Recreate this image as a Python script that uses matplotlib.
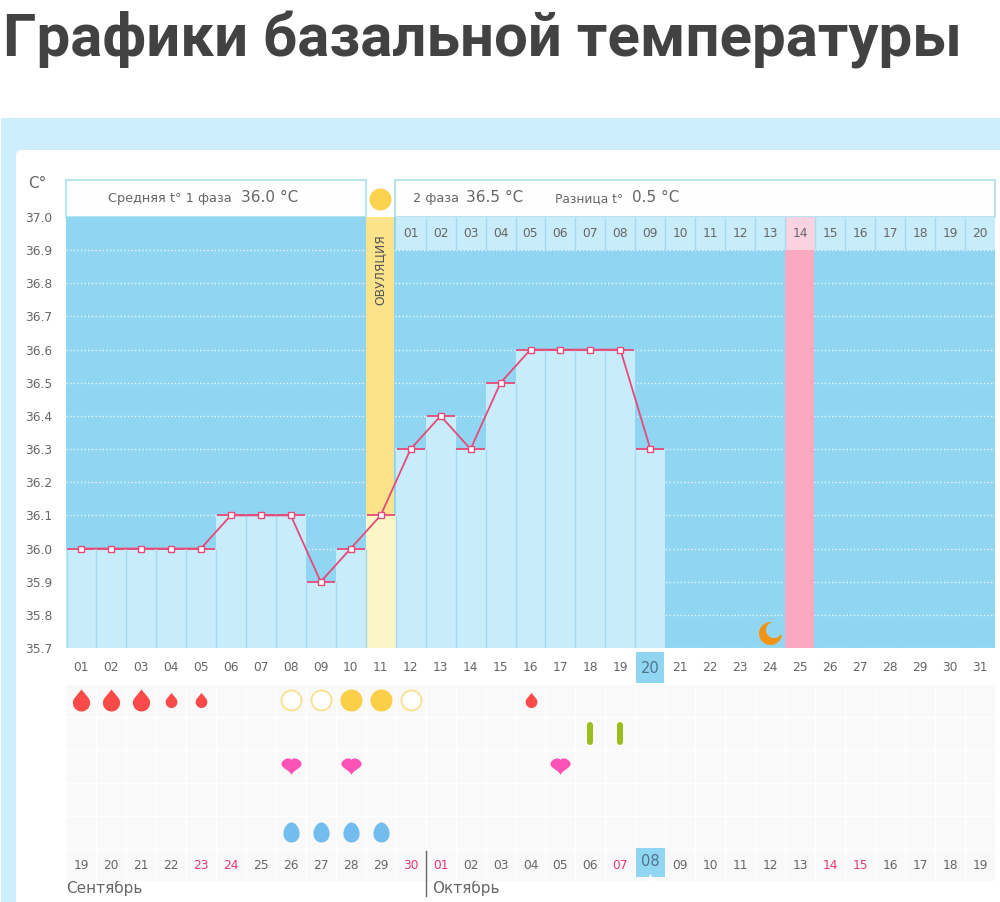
# plot.py - basal temperature chart for one cycle

import numpy as np
import matplotlib.pyplot as plt
from matplotlib.markers import MarkerStyle
from matplotlib.patches import FancyBboxPatch, Rectangle
from matplotlib.path import Path

plt.rcParams["font.family"] = ["DejaVu Sans"]

days = np.arange(1, 32)
temps = [36.0, 36.0, 36.0, 36.0, 36.0, 36.1, 36.1, 36.1, 35.9, 36.0,
         36.1, 36.3, 36.4, 36.3, 36.5, 36.6, 36.6, 36.6, 36.6, 36.3]
temp_ticks = [37.0, 36.9, 36.8, 36.7, 36.6, 36.5, 36.4, 36.3, 36.2, 36.1, 36.0, 35.9, 35.8, 35.7]

ovulation_day = 11
today = 20
pink_day = 25
moon_day = 24
moon_temp = 35.745

second_phase_days = days[11:]
second_phase_labels = [f"{i:02d}" for i in range(1, 21)]

calendar_labels = ["19", "20", "21", "22", "23", "24", "25", "26", "27", "28", "29", "30",
                   "01", "02", "03", "04", "05", "06", "07", "08", "09", "10", "11", "12",
                   "13", "14", "15", "16", "17", "18", "19"]
red_dates = [5, 6, 12, 13, 19, 26, 27]  # cycle days that fall on red calendar dates

big_drops = [1, 2, 3]
small_drops = [4, 5, 16]
open_rings = [8, 9, 12]
full_suns = [10, 11]
green_sticks = [18, 19]
hearts = [8, 10, 17]
eggs = [8, 9, 10, 11]

BG_BLUE = "#cdeefc"
CHART_BLUE = "#90d6f3"
BAR_BLUE = "#c9ecfb"
SEP_BLUE = "#a4dbf1"
HEAD_BORDER = "#a8dfee"
PINK_LINE = "#e64a78"
TEXT = "#666666"
RED_TEXT = "#e5386f"
TODAY_TEXT = "#4f7488"


# marker outlines, centred on the origin
def make_drop():
    t = np.linspace(0.2 * np.pi, -1.2 * np.pi, 40)
    x = 0.39 * np.cos(t)
    y = 0.39 * np.sin(t) - 0.11
    return Path(np.column_stack([np.r_[0, x], np.r_[0.5, y]]), closed=True)


def make_heart():
    t = np.linspace(0, 2 * np.pi, 80)
    x = 16 * np.sin(t) ** 3
    y = 13 * np.cos(t) - 3 * np.cos(2 * t) - np.cos(3 * t) - np.cos(4 * t)
    return Path(np.column_stack([x / 32, (y + 2.0) / 32]), closed=True)


def make_egg():
    t = np.linspace(0, 2 * np.pi, 60)
    x = 0.4 * np.cos(t) * (1 - 0.13 * np.sin(t))
    y = 0.5 * np.sin(t)
    return Path(np.column_stack([x, y]), closed=True)


def make_moon():
    # crescent: outer circle minus a circle shifted to the upper right
    a1, a2 = np.radians(80), np.radians(350)
    outer = 0.5 * np.column_stack([np.cos(np.linspace(a1, a2, 50)), np.sin(np.linspace(a1, a2, 50))])
    c = 0.15
    r = np.hypot(outer[0, 0] - c, outer[0, 1] - c)
    start = np.arctan2(outer[-1, 1] - c, outer[-1, 0] - c)
    end = np.arctan2(outer[0, 1] - c, outer[0, 0] - c) - 2 * np.pi
    t = np.linspace(start, end, 40)
    inner = np.column_stack([c + r * np.cos(t), c + r * np.sin(t)])
    return Path(np.vstack([outer, inner]), closed=True)


fig = plt.figure(figsize=(10, 9.02), dpi=100, facecolor="white")

# background axes works in pixels
bg = fig.add_axes([0, 0, 1, 1])
bg.set_xlim(0, 1000)
bg.set_ylim(902, 0)
bg.axis("off")

bg.text(3, 40, "Графики базальной температуры", fontsize=43.2, fontweight="bold",
        family="Roboto", color="#424242", va="center", ha="left")

bg.add_patch(Rectangle((1, 118), 999, 784, fc=BG_BLUE, ec="none"))
bg.add_patch(FancyBboxPatch((16, 150), 1000, 770, boxstyle="round,pad=0,rounding_size=6",
                            fc="white", ec="none"))

# header boxes above the chart
bg.add_patch(Rectangle((66, 180), 299.5, 37, fc="#fdfefd", ec=HEAD_BORDER, lw=1.2))
bg.add_patch(Rectangle((395, 180), 600, 37, fc="#fdfefd", ec=HEAD_BORDER, lw=1.2))
bg.text(108, 198.5, "Средняя t° 1 фаза", fontsize=9.3, color=TEXT, va="center")
bg.text(241, 198, "36.0 °C", fontsize=11, color=TEXT, va="center")
bg.text(413, 198.5, "2 фаза", fontsize=9.3, color=TEXT, va="center")
bg.text(466, 198, "36.5 °C", fontsize=11, color=TEXT, va="center")
bg.text(555, 198.5, "Разница t°", fontsize=8.8, color=TEXT, va="center")
bg.text(632, 198, "0.5 °C", fontsize=11, color=TEXT, va="center")
bg.text(37, 183, "C°", fontsize=11, color=TEXT, va="center", ha="center")
bg.scatter([380], [198.5], s=(22 * 0.72) ** 2, color="#fbd24e", lw=0, zorder=3)

# temperature chart
ax = fig.add_axes([66 / 1000, 1 - 648 / 902, 929 / 1000, 431 / 902])
ax.set_xlim(0.5, 31.5)
ax.set_ylim(35.7, 37.0)
ax.set_facecolor(CHART_BLUE)
for spine in ax.spines.values():
    spine.set_visible(False)

ax.hlines(temp_ticks[1:], 0.5, 31.5, color="white", lw=1.0, ls=(0, (1, 1.6)), alpha=0.8, zorder=1)
ax.axvspan(ovulation_day - 0.5, ovulation_day + 0.46, color="#fbe38b", lw=0, zorder=2)
ax.axvspan(pink_day - 0.5, pink_day + 0.46, color="#fba9c0", lw=0, zorder=2)

# cycle days of the second phase along the top
ax.bar(second_phase_days, 0.1, width=1.0, bottom=36.9,
       color=["#fbd3e0" if d == pink_day else BAR_BLUE for d in second_phase_days], lw=0, zorder=2)
ax.vlines(second_phase_days[1:] - 0.5, 36.9, 37.0, color=SEP_BLUE, lw=1, zorder=3)
for d, lab in zip(second_phase_days, second_phase_labels):
    ax.text(d, 36.95, lab, fontsize=8.8, color=TEXT, ha="center", va="center", zorder=4)

ax.text(ovulation_day - 0.02, 36.84, "ОВУЛЯЦИЯ", rotation=90, fontsize=8.8, color="#555555",
        ha="center", va="center", zorder=4)

# temperature bars from the bottom of the scale
bar_days = days[: len(temps)]
ax.bar(bar_days, np.array(temps) - 35.7, bottom=35.7, width=1.0,
       color=["#faf6c6" if d == ovulation_day else BAR_BLUE for d in bar_days], lw=0, zorder=3)
ax.vlines(bar_days[1:] - 0.5, 35.7, np.minimum(temps[:-1], temps[1:]), color=SEP_BLUE, lw=1, zorder=4)
ax.vlines(0.52, 35.7, temps[0], color=SEP_BLUE, lw=1, zorder=4)
ax.hlines(temps, bar_days - 0.47, bar_days + 0.47, color=PINK_LINE, lw=1.3, zorder=5)
ax.plot(bar_days, temps, color=PINK_LINE, lw=1.3, marker="s", ms=5, mfc="white",
        mec=PINK_LINE, mew=1, zorder=6)

ax.scatter([moon_day], [moon_temp], marker=MarkerStyle(make_moon()), s=(23 * 0.72) ** 2,
           color="#f39316", lw=0, zorder=5)

# tick labels left of and below the chart
ax.set_yticks(temp_ticks)
ax.set_yticklabels([f"{t:.1f}" for t in temp_ticks], fontsize=8.8, color=TEXT)
ax.set_xticks(days)
ax.set_xticklabels([f"{d:02d}" for d in days], fontsize=8.8, color=TEXT)
ax.tick_params(axis="both", length=0)
ax.tick_params(axis="y", pad=10)
ax.tick_params(axis="x", pad=9.5)
today_label = ax.get_xticklabels()[today - 1]
today_label.set_color(TODAY_TEXT)
today_label.set_fontsize(10.5)

# marker for the current day under the chart
bg.add_patch(Rectangle((66 + (today - 1) * 929 / 31 + 0.5, 652), 929 / 31 - 1.5, 31, fc=CHART_BLUE, ec="none"))

# symptom rows under the chart
strip = fig.add_axes([66 / 1000, 1 - 881.5 / 902, 929 / 1000, 197.5 / 902])
strip.set_xlim(0.5, 31.5)
strip.set_ylim(5.5, -0.5)
strip.axis("off")
strip.patch.set_alpha(0)

strip.axhspan(-0.47, 5.47, color="#f9f9f9", lw=0, zorder=1)
strip.vlines(days[1:] - 0.5, -0.47, 5.47, color="white", lw=0.8, zorder=1.5)
strip.hlines(np.arange(5) + 0.5, 0.5, 31.5, color="white", lw=1.0, zorder=1.5)

strip.bar([today], 0.9, width=0.95, bottom=5 - 0.53, color=CHART_BLUE, lw=0, zorder=2)
strip.scatter([today], [5.35], marker="^", s=28, color="white", lw=0, zorder=3)

strip.scatter(big_drops, [0] * len(big_drops), marker=MarkerStyle(make_drop()),
              s=(22 * 0.72) ** 2, color="#f94a4a", lw=0, zorder=3)
strip.scatter(small_drops, [0] * len(small_drops), marker=MarkerStyle(make_drop()),
              s=(15 * 0.72) ** 2, color="#f94a4a", lw=0, zorder=3)
strip.scatter(open_rings, [0] * len(open_rings), marker="o", s=(20 * 0.72) ** 2,
              facecolor="white", edgecolor="#f8e08c", lw=1.3, zorder=3)
strip.scatter(full_suns, [0] * len(full_suns), marker="o", s=(22 * 0.72) ** 2,
              color="#fbcf48", lw=0, zorder=3)
strip.vlines(green_sticks, 0.75, 1.25, color="#9bbd1c", lw=4.3, capstyle="round", zorder=3)
strip.scatter(hearts, [2] * len(hearts), marker=MarkerStyle(make_heart()),
              s=(20 * 0.72) ** 2, color="#fb52b5", lw=0, zorder=3)
strip.scatter(eggs, [4] * len(eggs), marker=MarkerStyle(make_egg()),
              s=(20 * 0.72) ** 2, color="#72bdee", lw=0, zorder=3)

# calendar dates along the bottom row
for d, lab in zip(days, calendar_labels):
    if d == today:
        strip.text(d, 4.9, lab, fontsize=10.5, ha="center", va="center", zorder=4, color=TODAY_TEXT)
    else:
        strip.text(d, 5, lab, fontsize=8.8, ha="center", va="center", zorder=4,
                   color=RED_TEXT if d in red_dates else TEXT)

strip.plot([12.5, 12.5], [4.58, 5.95], color="#666666", lw=1, clip_on=False, zorder=4)
bg.text(66, 888, "Сентябрь", fontsize=11, color=TEXT, va="center")
bg.text(432, 888, "Октябрь", fontsize=11, color=TEXT, va="center")

fig.savefig("out.png", dpi=100)
